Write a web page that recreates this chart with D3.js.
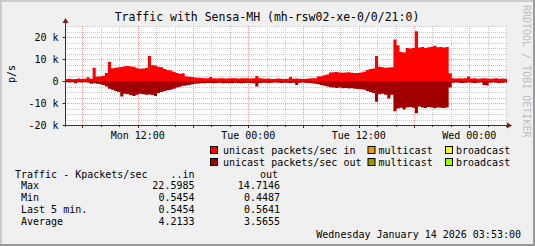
<!DOCTYPE html>
<html>
<head>
<meta charset="utf-8">
<script src="https://cdn.jsdelivr.net/npm/d3@7"></script>
<style>
  body { margin: 0; background: #f0f0f0; }
  text { font-family: "DejaVu Sans Mono", monospace; fill: #000; }
</style>
</head>
<body>
<div id="main"></div>
<script>
const title = "Traffic with Sensa-MH (mh-rsw02-xe-0/0/21:0)";
const startTime = new Date(2026, 0, 12, 4, 6);
const endTime = new Date(2026, 0, 14, 4, 6);
const stepMinutes = 20;

// Kpackets/sec, one value per 20 minute step from startTime
const unicastIn = [
  0.9, 1.0, 0.8, 0.9, 1.1, 0.9, 1.0, 1.7, 1.0,
  6.0, 2.0, 2.1, 2.3, 3.6, 8.7, 5.8, 6.0, 6.2, 6.4,
  6.7, 6.8, 6.6, 6.5, 5.8, 5.6, 5.7, 5.9, 11.4, 7.2, 7.0,
  6.5, 6.3, 5.5, 5.0, 4.8, 4.2, 3.6, 3.3, 3.5,
  2.0, 1.9, 1.8, 1.6, 1.5, 1.4,
  1.3, 1.2, 1.8, 1.2, 1.1, 1.3, 1.2, 1.1, 1.2, 1.3, 1.2, 1.1, 1.2, 1.3, 1.2, 1.1, 1.2, 2.3, 1.2, 1.1,
  1.0, 1.1, 0.9, 1.0, 1.1, 1.0, 0.9, 1.0, 1.8, 1.0, 1.1, 1.0, 0.9, 1.0, 1.1, 1.2, 1.3,
  2.0, 2.2, 2.6, 3.0, 3.9, 4.0, 4.1,
  3.9, 3.8, 3.9, 4.0, 3.7, 3.6, 3.6, 3.9, 4.2,
  5.0, 5.4, 5.7, 11.4, 6.5, 6.2, 6.0, 6.1, 6.3,
  18.9, 16.2, 13.2, 13.0, 15.0, 14.8, 15.0, 22.6,
  15.2, 15.4, 15.0, 15.3, 15.6, 16.0, 15.3, 15.4, 15.2, 15.4,
  3.5,
  1.2, 1.1, 1.3, 1.1, 1.2, 2.0, 1.1, 1.2, 1.0, 1.1, 1.2, 1.1, 1.0, 1.1, 1.2, 1.0, 1.1, 1.0
];
const unicastOut = [
  0.6, 0.7, 0.6, 1.0, 0.6, 0.7, 0.6, 0.7, 1.2,
  1.0, 1.2, 1.5, 1.8, 2.5, 3.5, 4.0, 4.5, 5.0,
  7.0, 5.8, 6.0, 6.5, 6.8, 6.2, 5.8, 6.0, 6.3, 6.1, 6.4, 6.8,
  5.5, 5.0, 4.5, 4.2, 4.0, 3.5,
  3.0, 2.6, 2.2, 2.0, 1.8, 1.5, 1.3,
  1.1, 1.0, 1.0, 0.9,
  0.9, 1.0, 0.9, 0.8, 1.0, 0.9, 0.9, 1.0, 0.8, 0.9, 1.0, 0.9, 0.8, 0.9, 1.0, 2.5, 0.9, 0.8,
  0.8, 0.9, 0.8, 0.7, 0.8, 0.9, 0.8, 0.8, 0.9, 0.8, 1.8, 0.8, 0.7, 0.8, 0.9, 1.0, 1.2,
  1.5, 1.8, 2.2,
  2.5, 2.8, 3.0, 3.2, 3.0, 3.3, 3.2, 3.4, 3.3, 3.5,
  3.6, 3.8, 4.0, 4.5, 5.0, 5.5, 9.4,
  6.0, 5.8, 6.2, 8.0, 6.3,
  13.8, 12.5, 12.2, 13.0, 12.0, 11.8, 12.2, 14.7,
  11.6, 12.0, 12.3, 11.8, 12.1, 12.4, 12.0, 12.2, 12.3, 12.0,
  3.0,
  0.8, 0.7, 0.8, 0.9, 0.8, 0.7, 0.8, 0.9, 0.8, 0.7, 1.8, 2.0, 0.8, 0.7, 0.8, 0.9, 0.8, 0.7
];
// [step index, value] where broadcast out shows up
const broadcastOut = [[44, 0.3], [51, 0.3], [53, 0.3], [111, 0.4]];

const yTicks = [-20, -10, 0, 10, 20];
const legendRows = [
  [["#ff0000", "unicast packets/sec in"], ["#ff9900", "multicast"], ["#ffff00", "broadcast"]],
  [["#a00000", "unicast packets/sec out"], ["#999900", "multicast"], ["#99ff00", "broadcast"]]
];
const legendCols = [210, 367.5, 445];
const statLabels = ["Max", "Min", "Last 5 min.", "Average"];
const statsIn = ["22.5985", "0.5454", "0.5454", "4.2133"];
const statsOut = ["14.7146", "0.4487", "0.5641", "3.5655"];
const stamp = "Wednesday January 14 2026 03:53:00";

const W = 535, H = 246;
const plot = { left: 65, right: 507, top: 26, bottom: 125 };

const svg = d3.select("#main").append("svg")
  .attr("width", W)
  .attr("height", H);

// background with 3d frame
svg.append("rect").attr("width", W).attr("height", H).attr("fill", "#f0f0f0");
svg.append("rect").attr("x", 0).attr("y", 0).attr("width", W).attr("height", 2).attr("fill", "#cbcbcb");
svg.append("rect").attr("x", 0).attr("y", 0).attr("width", 2).attr("height", H).attr("fill", "#cbcbcb");
svg.append("rect").attr("x", 0).attr("y", H - 2).attr("width", W).attr("height", 2).attr("fill", "#999");
svg.append("rect").attr("x", W - 2).attr("y", 0).attr("width", 2).attr("height", H).attr("fill", "#999");

svg.append("rect")
  .attr("x", plot.left).attr("y", plot.top)
  .attr("width", plot.right - plot.left).attr("height", plot.bottom - plot.top)
  .attr("fill", "#fff");

var x = d3.scaleTime()
  .domain([startTime, endTime])
  .range([plot.left, plot.right]);

var y = d3.scaleLinear()
  .domain([-20, 25])
  .range([plot.bottom, plot.top]);

// grid
var grid = svg.append("g").attr("shape-rendering", "crispEdges");
var minorY = d3.range(-17.5, 25.01, 2.5).filter((v) => v % 10 != 0);
grid.selectAll(".hminor").data(minorY).enter().append("line")
  .attr("x1", plot.left).attr("x2", plot.right)
  .attr("y1", (d) => Math.round(y(d)) + 0.5).attr("y2", (d) => Math.round(y(d)) + 0.5)
  .attr("stroke", "#c8c8c8").attr("stroke-dasharray", "1,1");
var minorX = d3.timeHour.every(2).range(startTime, endTime).filter((d) => d.getHours() % 6 != 0);
grid.selectAll(".vminor").data(minorX).enter().append("line")
  .attr("x1", (d) => Math.round(x(d)) + 0.5).attr("x2", (d) => Math.round(x(d)) + 0.5)
  .attr("y1", plot.top).attr("y2", plot.bottom)
  .attr("stroke", "#c8c8c8").attr("stroke-dasharray", "1,1");
grid.selectAll(".hmajor").data(yTicks.filter((v) => v > -20)).enter().append("line")
  .attr("x1", plot.left).attr("x2", plot.right)
  .attr("y1", (d) => Math.round(y(d)) + 0.5).attr("y2", (d) => Math.round(y(d)) + 0.5)
  .attr("stroke", "#f2a0a0").attr("stroke-dasharray", "1,1");
var majorX = d3.timeHour.every(6).range(startTime, endTime);
grid.selectAll(".vmajor").data(majorX).enter().append("line")
  .attr("x1", (d) => Math.round(x(d)) + 0.5).attr("x2", (d) => Math.round(x(d)) + 0.5)
  .attr("y1", plot.top).attr("y2", plot.bottom)
  .attr("stroke", "#f2a0a0").attr("stroke-dasharray", "1,1");

// series
function stepTime(i) {
  return new Date(startTime.getTime() + i * stepMinutes * 60000);
}
function withEnd(values) {
  var pts = values.map((v, i) => [stepTime(i), v]);
  pts.push([endTime, values[values.length - 1]]);
  return pts;
}

var clip = svg.append("clipPath").attr("id", "plotclip").append("rect")
  .attr("x", plot.left).attr("y", plot.top)
  .attr("width", plot.right - plot.left).attr("height", plot.bottom - plot.top);

var series = svg.append("g").attr("clip-path", "url(#plotclip)");

series.append("path")
  .datum(withEnd(unicastIn))
  .attr("fill", "#ff0000")
  .attr("d", d3.area().curve(d3.curveStepAfter)
    .x((d) => x(d[0])).y0(y(0)).y1((d) => y(d[1])));

series.append("path")
  .datum(withEnd(unicastOut))
  .attr("fill", "#a00000")
  .attr("d", d3.area().curve(d3.curveStepAfter)
    .x((d) => x(d[0])).y0(y(0)).y1((d) => y(-d[1])));

series.selectAll(".bcast").data(broadcastOut).enter().append("rect")
  .attr("fill", "#99ff00")
  .attr("x", (d) => x(stepTime(d[0])))
  .attr("width", (d) => x(stepTime(d[0] + 1)) - x(stepTime(d[0])) - 1)
  .attr("y", (d) => y(-unicastOut[d[0]]))
  .attr("height", (d) => y(-unicastOut[d[0]] - d[1]) - y(-unicastOut[d[0]]));

// axes
var axisColor = "#333";
svg.append("line")
  .attr("x1", plot.left + 0.5).attr("x2", plot.left + 0.5)
  .attr("y1", plot.bottom + 2).attr("y2", 22)
  .attr("stroke", axisColor);
svg.append("line")
  .attr("x1", plot.left - 2).attr("x2", plot.right + 1)
  .attr("y1", plot.bottom + 0.5).attr("y2", plot.bottom + 0.5)
  .attr("stroke", axisColor);
svg.append("path")
  .attr("d", "M" + (plot.left + 0.5) + ",18 l-3,5 h6 z")
  .attr("fill", "#7f1f1f");
svg.append("path")
  .attr("d", "M512," + (plot.bottom + 0.5) + " l-5,-3 v6 z")
  .attr("fill", "#7f1f1f");

svg.append("g")
  .attr("transform", "translate(" + (plot.left + 0.5) + ",0)")
  .call(d3.axisLeft(y).tickValues(yTicks).tickSize(3).tickPadding(4)
    .tickFormat((d) => d == 0 ? "0" : d + " k"))
  .call((g) => g.select(".domain").remove())
  .call((g) => g.selectAll("line").attr("stroke", axisColor))
  .call((g) => g.selectAll("text")
    .attr("font-family", "DejaVu Sans Mono").attr("font-size", 10).attr("fill", "#000"));

var xTicks = svg.append("g").attr("shape-rendering", "crispEdges");
xTicks.selectAll(".xt").data(d3.timeHour.every(2).range(startTime, endTime)).enter().append("line")
  .attr("x1", (d) => Math.round(x(d)) + 0.5).attr("x2", (d) => Math.round(x(d)) + 0.5)
  .attr("y1", plot.bottom).attr("y2", (d) => plot.bottom + (d.getHours() % 6 == 0 ? 3 : 2))
  .attr("stroke", axisColor);

var fmt = d3.timeFormat("%a %H:%M");
svg.selectAll(".xlabel").data(d3.timeHour.every(12).range(startTime, endTime)).enter().append("text")
  .attr("x", (d) => x(d))
  .attr("y", 138.5)
  .attr("text-anchor", "middle")
  .attr("font-size", 10)
  .text((d) => fmt(d));

svg.append("text")
  .attr("transform", "translate(15,74) rotate(-90)")
  .attr("text-anchor", "middle")
  .attr("font-size", 10)
  .text("p/s");

svg.append("text")
  .attr("x", 267).attr("y", 21)
  .attr("text-anchor", "middle")
  .attr("font-size", 11.5)
  .text(title);

svg.append("text")
  .attr("transform", "translate(523,5) rotate(90)")
  .attr("font-size", 10)
  .style("fill", "#bdbdbd")
  .text("RRDTOOL / TOBI OETIKER");

// legend
legendRows.forEach((row, r) => {
  row.forEach((item, c) => {
    var lx = legendCols[c];
    var ly = 146 + r * 12;
    svg.append("rect")
      .attr("x", lx + 0.5).attr("y", ly + 0.5)
      .attr("width", 7).attr("height", 7)
      .attr("fill", item[0]).attr("stroke", "#000");
    svg.append("text")
      .attr("x", lx + (c == 0 ? 13 : 11)).attr("y", ly + 7.5)
      .attr("font-size", 10)
      .text(item[1]);
  });
});

// stats table
var table = svg.append("g").attr("font-size", 10);
table.append("text").attr("x", 15).attr("y", 177.5).text("Traffic - Kpackets/sec");
table.append("text").attr("x", 194.5).attr("y", 177.5).attr("text-anchor", "end").text("..in");
table.append("text").attr("x", 260).attr("y", 177.5).text("out");
statLabels.forEach((label, i) => {
  var ty = 189.3 + i * 11.8;
  table.append("text").attr("x", 21).attr("y", ty).text(label);
  table.append("text").attr("x", 194.5).attr("y", ty).attr("text-anchor", "end").text(statsIn[i]);
  table.append("text").attr("x", 280).attr("y", ty).attr("text-anchor", "end").text(statsOut[i]);
});

svg.append("text")
  .attr("x", 521).attr("y", 238)
  .attr("text-anchor", "end")
  .attr("font-size", 10)
  .text(stamp);
</script>
</body>
</html>
